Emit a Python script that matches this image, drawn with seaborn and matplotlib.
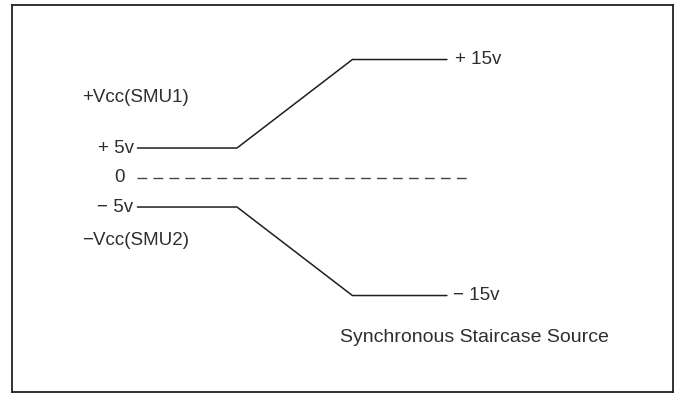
import numpy as np
import pandas as pd
import matplotlib
matplotlib.use("Agg")
import matplotlib.pyplot as plt
import seaborn as sns

# ---- data (schematic: time steps vs. source voltage) ----
time = [0.0, 1.0, 2.16, 3.11]
smu1_volts = [5, 5, 15, 15]
smu2_volts = [-5, -5, -15, -15]
zero_time = [0.0, 3.36]
zero_volts = [0, 0]

sns.set_style("white")
plt.rcParams['font.family'] = ['Liberation Sans', 'DejaVu Sans']

W, H = 683, 395
fig = plt.figure(figsize=(W / 100, H / 100), dpi=100)
ax = fig.add_axes([12 / W, 3 / H, (673 - 12) / W, (392 - 5) / H])

# schematic (not-to-scale) voltage axis: |v|<=5 linear, beyond 5 compressed
def fwd(v):
    v = np.asarray(v, dtype=float)
    a = np.abs(v)
    return np.sign(v) * np.where(a <= 5, a / 5, 1 + (a - 5) * 0.3)

def inv(u):
    u = np.asarray(u, dtype=float)
    a = np.abs(u)
    return np.sign(u) * np.where(a <= 1, a * 5, 5 + (a - 1) / 0.3)

ax.set_yscale('function', functions=(fwd, inv))

df1 = pd.DataFrame({"t": time, "v": smu1_volts})
df2 = pd.DataFrame({"t": time, "v": smu2_volts})
dz = pd.DataFrame({"t": zero_time, "v": zero_volts})

line_col = "#1e1e1e"
sns.lineplot(data=df1, x="t", y="v", ax=ax, color=line_col, lw=1.1, sort=False, estimator=None)
sns.lineplot(data=df2, x="t", y="v", ax=ax, color=line_col, lw=1.1, sort=False, estimator=None)
sns.lineplot(data=dz, x="t", y="v", ax=ax, color="#444444", lw=1.0, sort=False,
             estimator=None, dashes=False, linestyle=(0, (7, 4.5)))

ax.set_xlim(-1.261, 5.382)
ax.set_ylim(-25.90, 21.16)
ax.set_xticks([])
ax.set_yticks([])
ax.set_xlabel("")
ax.set_ylabel("")
for s in ax.spines.values():
    s.set_visible(True)
    s.set_color("#222222")
    s.set_linewidth(1.3)

tc = "#2e2e2e"
fs = 13.5
ax.text(-0.035, 5, "+ 5v", ha="right", va="center", fontsize=fs, color=tc)
ax.text(-0.126, 0, "0", ha="right", va="center", fontsize=fs, color=tc)
ax.text(-0.045, -5, "\u2212 5v", ha="right", va="center", fontsize=fs, color=tc)
ax.text(3.19, 15, "+ 15v", ha="left", va="center", fontsize=fs, color=tc)
ax.text(3.17, -15, "\u2212 15v", ha="left", va="center", fontsize=fs, color=tc)
ax.text(-0.56, 10.76, "+Vcc(SMU1)", ha="left", va="center", fontsize=fs, color=tc)
ax.text(-0.56, -8.73, "\u2212Vcc(SMU2)", ha="left", va="center", fontsize=fs, color=tc)
ax.text(2.035, -19.69, "Synchronous Staircase Source", ha="left", va="center",
        fontsize=14, color=tc)

fig.savefig("out.png", dpi=100)
